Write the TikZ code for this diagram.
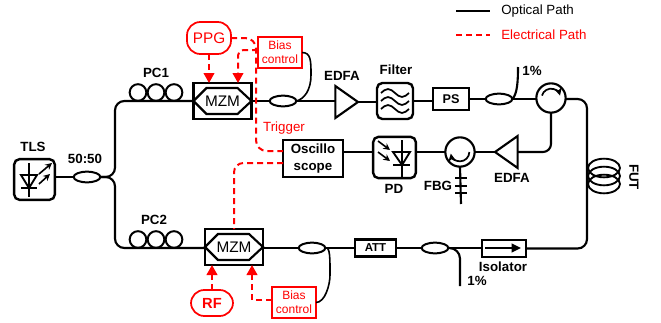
\documentclass[tikz,border=0pt]{standalone}
\usepackage{fontspec}
\setmainfont{Liberation Sans}
\usetikzlibrary{shapes.geometric, arrows.meta, calc}
\definecolor{elec}{RGB}{255,0,0}
\tikzset{
    optical/.style={line width=1.6pt},
    electrical/.style={line width=1.5pt, elec, dash pattern=on 4.5pt off 3pt},
    elecarrow/.style={electrical, -{Triangle[length=7.5pt, width=8pt]}},
    devbox/.style={rectangle, draw, line width=1.8pt, inner sep=0pt, outer sep=0pt, align=center},
    mzmbox/.style={devbox, minimum width=43.5pt, minimum height=27pt, font=\fontsize{11.5}{12}\selectfont},
    symbox/.style={devbox, rounded corners=4pt},
    biasbox/.style={rectangle, draw=elec, line width=1.2pt, text=elec, inner sep=0pt, outer sep=0pt, minimum width=33pt, minimum height=23pt, align=center, font=\fontsize{9}{10.5}\selectfont},
    source/.style={rectangle, draw=elec, line width=1.3pt, text=elec, rounded corners=10pt, inner sep=0pt, outer sep=0pt, font=\fontsize{11.5}{12}\selectfont},
    coupler/.style={ellipse, draw, line width=1.5pt, inner sep=0pt, outer sep=0pt, minimum width=20pt, minimum height=8pt},
    loopc/.style={circle, draw, line width=1.5pt, inner sep=0pt, outer sep=0pt, minimum size=12.5pt},
    edfa/.style={isosceles triangle, draw, line width=1.6pt, inner sep=0pt, outer sep=0pt, isosceles triangle stretches, minimum height=17pt, minimum width=24pt},
    circulator/.style={circle, draw, line width=1.6pt, inner sep=0pt, outer sep=0pt, minimum size=22pt},
    lbl/.style={font=\bfseries\fontsize{10}{11.5}\selectfont, inner sep=0pt},
    legendtext/.style={font=\fontsize{10}{12}\selectfont, inner sep=0pt, anchor=west}
}
\newcommand{\mzmhex}[1]{\draw[line width=1.6pt] (#1.west) -- ++(13,-13) -- ++(31,0) -- ++(14,13) -- ++(-14,13) -- ++(-31,0) -- cycle;}

\begin{document}
\begin{tikzpicture}[x=0.75pt, y=-0.75pt]
    \useasboundingbox (0,0) rectangle (661,322);

    % legend
    \coordinate (optfrom) at (456,11);
    \coordinate (optto) at (490,11);
    \coordinate (elefrom) at (456,35);
    \coordinate (eleto) at (490,35);
    \draw[optical] (optfrom) -- (optto);
    \draw[electrical] (elefrom) -- (eleto);
    \node[legendtext] (optlabel) at (501,11) {Optical Path};
    \node[legendtext, text=elec] (elelabel) at (501,35) {Electrical Path};

    % source and splitter
    \node[symbox, minimum width=30.5pt, minimum height=30.5pt] (tls) at (34.5,179.5) {};
    \node[lbl] (tlslabel) at (33,147) {TLS};
    \node[coupler] (split) at (87,177) {};
    \node[lbl] (splitlabel) at (85,159) {50:50};
    \coordinate (leftbus) at (115,177);

    % upper arm
    \foreach \i/\x in {1/138, 2/156, 3/174} {
        \node[loopc] (pca\i) at (\x,92.5) {};
        \node[loopc] (pcb\i) at (\x,239.5) {};
    }
    \node[lbl] (pcalabel) at (156,73) {PC1};
    \node[mzmbox] (mzma) at (222.5,101) {MZM};
    \node[coupler] (tapa) at (283,101) {};
    \node[biasbox] (biasa) at (280,52.5) {Bias\\control};
    \node[edfa, anchor=apex] (edfaa) at (358,102) {};
    \node[lbl] (edfaalabel) at (342,76) {EDFA};
    \node[symbox, minimum width=27pt, minimum height=27pt] (filt) at (395,101) {};
    \node[lbl] (filtlabel) at (396,70) {Filter};
    \node[devbox, minimum width=27pt, minimum height=16.5pt, font=\bfseries\fontsize{9.5}{11}\selectfont] (ps) at (451,99) {PS};
    \node[coupler] (tapb) at (499,99) {};
    \coordinate (tapbend) at (518,67);
    \node[lbl] (tapblabel) at (532,71) {1\%};
    \node[circulator] (circa) at (551,98) {};

    % return path
    \node[edfa, anchor=apex, shape border rotate=180] (edfab) at (495,152) {};
    \node[lbl] (edfablabel) at (512,178) {EDFA};
    \node[circulator] (circb) at (460,152) {};
    \coordinate (fbgend) at (461,204);
    \node[lbl] (fbglabel) at (438,186) {FBG};
    \node[symbox, minimum width=32pt, minimum height=31pt] (pd) at (394.5,157.5) {};
    \node[lbl] (pdlabel) at (394,189) {PD};
    \node[devbox, minimum width=45pt, minimum height=28pt, font=\bfseries\fontsize{10}{12.5}\selectfont] (scope) at (313,158.5) {Oscillo\\scope};

    % lower arm
    \node[mzmbox] (mzmb) at (234,247) {MZM};
    \node[coupler] (tapc) at (312,248) {};
    \node[biasbox] (biasb) at (294,302.5) {Bias\\control};
    \node[devbox, minimum width=30.5pt, minimum height=13pt, font=\bfseries\fontsize{8.6}{10}\selectfont] (att) at (375.5,248) {ATT};
    \node[coupler] (tapd) at (435,248) {};
    \coordinate (tapdend) at (460,286);
    \node[lbl] (tapdlabel) at (477,281) {1\%};
    \node[devbox, minimum width=33pt, minimum height=13pt] (iso) at (504,248.5) {};
    \node[lbl] (isolabel) at (503,267) {Isolator};
    \node[lbl] (pcblabel) at (154,220) {PC2};

    % fibre under test
    \coordinate (futbus) at (587,176);
    \foreach \i/\y in {1/168, 2/176, 3/184} {
        \node[ellipse, draw, line width=1.4pt, inner sep=0pt, outer sep=0pt, minimum width=24pt, minimum height=14pt] (fut\i) at (604,\y) {};
    }
    \node[lbl, rotate=-90] (futlabel) at (634,177) {FUT};

    % electrical sources
    \node[source, minimum width=33pt, minimum height=24pt] (ppg) at (209,38) {PPG};
    \node[source, minimum width=31.5pt, minimum height=19.5pt, font=\bfseries\fontsize{11}{12}\selectfont] (rf) at (212,303) {RF};
    \node[font=\fontsize{10}{12}\selectfont, text=elec, inner sep=0pt] (triggerlabel) at (284,128) {Trigger};

    % optical connections
    \draw[optical] (tls.east |- split) -- (split.west);
    \draw[optical, rounded corners=7pt] (split.east) -- (leftbus) |- (mzma.west);
    \draw[optical, rounded corners=7pt] (split.east) -- (leftbus) |- (mzmb.west |- tapc);
    \draw[optical] (mzma.east) -- (tapa.west);
    \draw[optical] (tapa.east) -- (edfaa.west |- tapa);
    \draw[optical] (edfaa.apex) -- (filt.west |- edfaa.apex);
    \draw[optical] (filt.east) -- (filt.east -| ps.west);
    \draw[optical] (ps.east) -- (tapb.west);
    \draw[optical] (tapb.east) -- (circa.west |- tapb);
    \draw[optical] (tapb.east) .. controls +(5,-5) and +(0,14) .. (tapbend);
    \draw[optical, rounded corners=7pt] (circa.east |- tapb) -| (futbus) |- (iso.east);
    \draw[optical, rounded corners=6pt] (circa.south) |- (edfab.east);
    \draw[optical] (edfab.apex) -- (circb.east);
    \draw[optical] (circb.west) -- (pd.east |- circb.west);
    \draw[optical] (pd.west |- circb.west) -- (scope.east |- circb.west);
    \draw[optical] (circb.south) -- (fbgend);
    \draw[optical] (mzmb.east |- tapc) -- (tapc.west);
    \draw[optical] (tapc.east) -- (att.west);
    \draw[optical] (att.east) -- (tapd.west);
    \draw[optical] (tapd.east) -- (iso.west |- tapd);
    \draw[optical, rounded corners=8pt] (tapd.east) -| (tapdend);

    % bias monitor fibres
    \coordinate (biasabend) at (311,75);
    \coordinate (biasbbend) at (330,275);
    \draw[line width=1.2pt] (biasa.east) .. controls +(9,0) and +(0,-14) .. (biasabend) .. controls +(0,15) and +(8,-2) .. (tapa.east);
    \draw[line width=1.2pt] (biasb.east) .. controls +(9,0) and +(0,10) .. (biasbbend) .. controls +(0,-15) and +(5,-2) .. (tapc.east);

    % electrical connections
    \draw[elecarrow] (ppg.south) -- (ppg.south |- mzma.north);
    \coordinate (biasatap) at (238,50);
    \draw[elecarrow, rounded corners=4pt] (biasa.west |- biasatap) -- (biasatap) -- (biasatap |- mzma.north);
    \coordinate (trigbus) at (256,100);
    \draw[electrical, rounded corners=8pt] (ppg.east) -| (trigbus) |- (scope.west |- 0,151);
    \coordinate (scopetap) at (234,200);
    \draw[electrical, rounded corners=7pt] (scope.west |- 0,163) -| (scopetap) -- (scopetap |- mzmb.north);
    \draw[elecarrow] (rf.north) -- (rf.north |- mzmb.south);
    \coordinate (biasbtap) at (252,300);
    \draw[elecarrow] (biasb.west |- biasbtap) -- (biasbtap) -- (biasbtap |- mzmb.south);

    % inner symbols
    \mzmhex{mzma}
    \mzmhex{mzmb}
    \draw[line width=1.4pt] (29,163) -- (29,197);
    \draw[line width=1.4pt] (21,175) -- (37,175) -- (29,188) -- cycle;
    \draw[line width=1.4pt] (21,188) -- (37,188);
    \draw[line width=1.2pt, -{Stealth[length=5pt, width=5pt]}] (39,174) -- (52,163);
    \draw[line width=1.2pt, -{Stealth[length=5pt, width=5pt]}] (39,184) -- (50,174);
    \draw[line width=1.4pt] (402,140) -- (402,177);
    \draw[line width=1.4pt] (393,152) -- (410,152) -- (402,165) -- cycle;
    \draw[line width=1.4pt] (393,165) -- (410,165);
    \draw[line width=1.2pt, -{Stealth[length=5pt, width=5pt]}] (378,141) -- (390,150);
    \draw[line width=1.2pt, -{Stealth[length=5pt, width=5pt]}] (378,152) -- (390,161);
    \foreach \wy in {-8, 0, 8} {
        \draw[line width=1.3pt] ($(filt)+(-14,\wy)$) sin ++(7,-4) cos ++(7,4) sin ++(7,4) cos ++(7,-4);
    }
    \draw[line width=1.3pt, -{Stealth[length=6pt, width=6pt]}] ([shift={(165:7pt)}]circa.center) arc[start angle=165, end angle=15, radius=7pt];
    \draw[line width=1.3pt, -{Stealth[length=6pt, width=6pt]}] ([shift={(0:7pt)}]circb.center) arc[start angle=0, end angle=-170, radius=7pt];
    \foreach \ty in {178, 186, 193} {
        \draw[optical] (455,\ty) -- (467,\ty);
    }
    \draw[line width=1.3pt, -{Triangle[length=7pt, width=6.5pt]}] (485,248) -- (521,248);
\end{tikzpicture}
\end{document}
